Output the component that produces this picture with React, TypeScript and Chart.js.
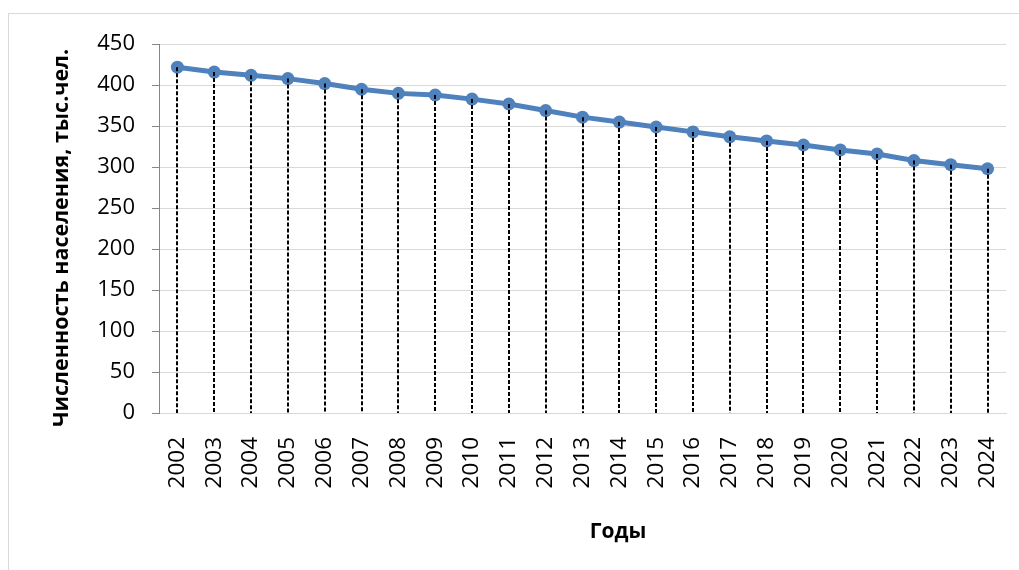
import React, { useEffect, useRef } from "react";
import { Chart, registerables } from "chart.js";

Chart.register(...registerables);

const years = ["2002","2003","2004","2005","2006","2007","2008","2009","2010","2011","2012","2013","2014","2015","2016","2017","2018","2019","2020","2021","2022","2023","2024"];
const population = [422, 416, 412, 408, 402, 395, 390, 388, 383, 377, 369, 361, 355, 349, 343, 337, 332, 327, 321, 316, 308, 303, 298];
const yTitle = "Численность населения, тыс.чел.";
const xTitle = "Годы";

const FONT = "'Open Sans', 'DejaVu Sans', sans-serif";

const dropLines = {
  id: "dropLines",
  afterDatasetsDraw(chart: any) {
    const meta = chart.getDatasetMeta(0);
    const yScale = chart.scales.y;
    const ctx = chart.ctx;
    const base = yScale.getPixelForValue(0);
    ctx.save();
    ctx.strokeStyle = "#000000";
    ctx.lineWidth = 2;
    ctx.setLineDash([4, 2]);
    meta.data.forEach((pt: any) => {
      ctx.beginPath();
      ctx.moveTo(Math.round(pt.x), pt.y);
      ctx.lineTo(Math.round(pt.x), base);
      ctx.stroke();
    });
    ctx.restore();
  },
};

const axisTitles = {
  id: "axisTitles",
  afterDraw(chart: any) {
    const ctx = chart.ctx;
    ctx.save();
    ctx.fillStyle = "#000000";
    ctx.textAlign = "center";
    ctx.textBaseline = "middle";
    ctx.font = `bold 21.5px ${FONT}`;
    ctx.translate(53, 224);
    ctx.rotate(-Math.PI / 2);
    ctx.fillText(yTitle, 0, 0);
    ctx.restore();
    ctx.save();
    ctx.fillStyle = "#000000";
    ctx.textAlign = "center";
    ctx.textBaseline = "middle";
    ctx.font = `bold 21px ${FONT}`;
    ctx.fillText(xTitle, 609, 518);
    ctx.restore();
  },
};

export default function App() {
  const ref = useRef<HTMLCanvasElement | null>(null);
  useEffect(() => {
    if (!ref.current) return;
    const chart = new Chart(ref.current, {
      type: "line",
      data: {
        labels: years,
        datasets: [
          {
            data: population,
            borderColor: "#4F81BD",
            backgroundColor: "#4F81BD",
            borderWidth: 5,
            pointRadius: 6.5,
            pointBorderWidth: 0,
            pointBackgroundColor: "#4F81BD",
            tension: 0,
          },
        ],
      },
      plugins: [dropLines, axisTitles],
      options: {
        responsive: false,
        animation: false,
        devicePixelRatio: 1,
        layout: { padding: { top: 29, right: 13, left: 0, bottom: 0 } },
        plugins: { legend: { display: false }, tooltip: { enabled: false } },
        scales: {
          x: {
            offset: true,
            grid: { display: false, drawTicks: false },
            border: { color: "#D9D9D9", width: 1 },
            ticks: {
              minRotation: 90,
              maxRotation: 90,
              autoSkip: false,
              padding: 24,
              color: "#000000",
              font: { family: FONT, size: 22.5 },
            },
            afterFit(scale: any) {
              scale.height = 157;
              scale.paddingLeft = 0;
              scale.paddingRight = 0;
            },
          },
          y: {
            min: 0,
            max: 450,
            ticks: {
              stepSize: 50,
              padding: 17,
              color: "#000000",
              font: { family: FONT, size: 22 },
            },
            grid: { color: "#D9D9D9", tickColor: "#868686", tickLength: 7, lineWidth: 1 },
            border: { color: "#868686", width: 1 },
            afterFit(scale: any) {
              scale.width = 150;
            },
          },
        },
      },
    });
    return () => chart.destroy();
  }, []);
  return (
    <div
      style={{
        position: "absolute",
        left: 8,
        top: 13,
        width: 1011,
        height: 557,
        borderTop: "1px solid #D9D9D9",
        borderLeft: "1px solid #D9D9D9",
        background: "#FFFFFF",
      }}
    >
      <canvas ref={ref} width={1010} height={556} style={{ display: "block" }} />
    </div>
  );
}
